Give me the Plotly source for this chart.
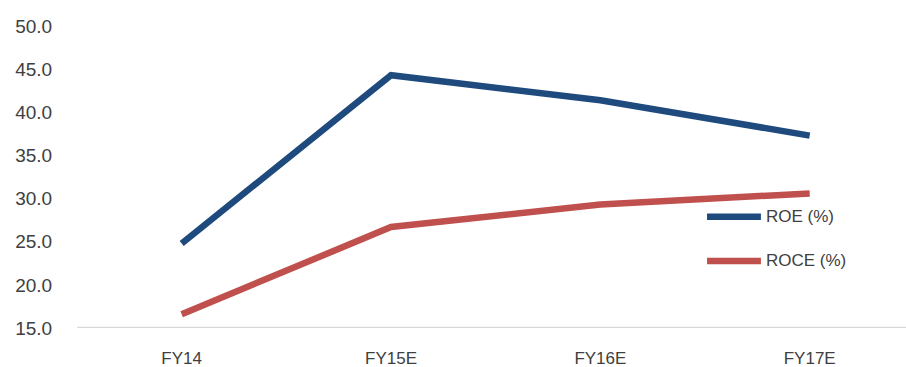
import plotly.graph_objects as go

categories = ["FY14", "FY15E", "FY16E", "FY17E"]
roe = [24.8, 44.3, 41.4, 37.3]
roce = [16.6, 26.7, 29.3, 30.6]
y_ticks = [15, 20, 25, 30, 35, 40, 45, 50]

BLUE = "#1F4A7E"
RED = "#C0504D"
FONT = "Liberation Sans"

fig = go.Figure()
fig.add_trace(go.Scatter(x=categories, y=roe, mode="lines", name="ROE (%)",
                         line=dict(color=BLUE, width=6.5), showlegend=False))
fig.add_trace(go.Scatter(x=categories, y=roce, mode="lines", name="ROCE (%)",
                         line=dict(color=RED, width=6.5), showlegend=False))

# hand-drawn legend on the right side
for name, color, yp in [("ROE (%)", BLUE, 0.368), ("ROCE (%)", RED, 0.222)]:
    fig.add_shape(type="line", xref="paper", yref="paper",
                  x0=0.760, x1=0.825, y0=yp, y1=yp,
                  line=dict(color=color, width=6.5))
    fig.add_annotation(text=name, xref="paper", yref="paper", x=0.829, y=yp,
                       xanchor="left", yanchor="middle", showarrow=False,
                       font=dict(family=FONT, size=17, color="#404040"))

fig.update_layout(
    width=906, height=367,
    margin=dict(l=77, r=0, t=26, b=38.5),
    plot_bgcolor="white", paper_bgcolor="white",
    font=dict(family=FONT, size=18, color="#404040"),
    xaxis=dict(type="category", range=[-0.5, 3.46], showgrid=False,
               showline=False, zeroline=False, ticks="outside",
               ticklen=15, tickcolor="rgba(0,0,0,0)", automargin=False,
               tickfont=dict(size=17)),
    yaxis=dict(range=[15, 50], tickvals=y_ticks,
               ticktext=[f"{v:.1f}" for v in y_ticks],
               showgrid=False, zeroline=False, showline=False,
               ticks="outside", ticklen=20, tickcolor="rgba(0,0,0,0)",
               automargin=False, tickfont=dict(size=19)),
)
# baseline along the bottom of the value axis
fig.add_shape(type="line", xref="paper", yref="y", x0=0, x1=1, y0=15, y1=15,
              line=dict(color="#D9D9D9", width=2.5), layer="below")

fig.write_html("out.html")
